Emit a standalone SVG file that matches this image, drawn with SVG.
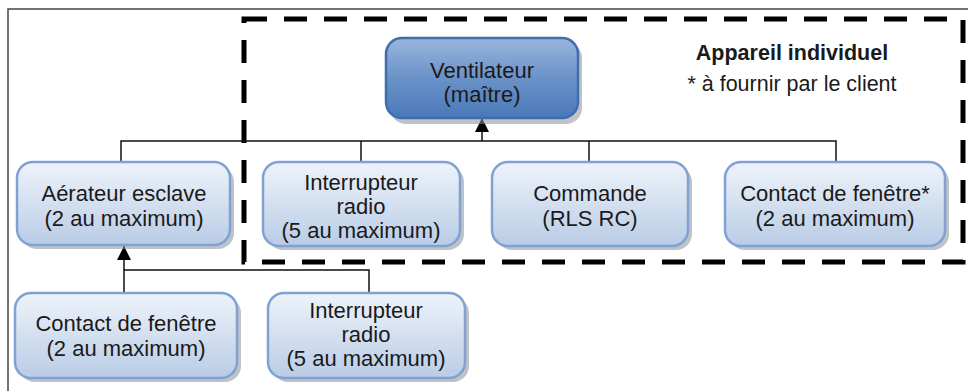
<svg xmlns="http://www.w3.org/2000/svg" width="968" height="391" viewBox="0 0 968 391">
<style>
text{font-family:"Liberation Sans",Arial,sans-serif;font-size:22px;fill:#1a1a1a;text-anchor:middle}
.note{font-size:21.5px}
.box{fill:url(#lg);stroke:#7fa2d2;stroke-width:2.5}
.sh{fill:#8a9099;opacity:0.55}
.wire{fill:none;stroke:#111;stroke-width:1.5}
</style>
<defs>
<linearGradient id="lg" x1="0" y1="0" x2="0" y2="1">
<stop offset="0" stop-color="#eef3fa"/>
<stop offset="1" stop-color="#b9cce6"/>
</linearGradient>
<linearGradient id="dg" x1="0" y1="0" x2="0" y2="1">
<stop offset="0" stop-color="#9ab5dd"/>
<stop offset="0.5" stop-color="#6a92c8"/>
<stop offset="1" stop-color="#4a78b8"/>
</linearGradient>
<marker id="ah" markerWidth="15" markerHeight="15" refX="14" refY="7.5" orient="auto" markerUnits="userSpaceOnUse" viewBox="0 0 15 15">
<path d="M0,0.5 L14,7.5 L0,14.5 Z" fill="#000"/>
</marker>
</defs>
<rect width="968" height="391" fill="#fff"/>
<path d="M8,391 V9 H968" fill="none" stroke="#444" stroke-width="1.5"/>
<rect x="244" y="19" width="719" height="243" fill="none" stroke="#000" stroke-width="5" stroke-dasharray="23 17"/>

<g id="connectors">
<path class="wire" d="M121,162 V141 H836 V162"/>
<path class="wire" d="M361,141 V162"/>
<path class="wire" d="M589,141 V162"/>
<path class="wire" d="M482,141 V118" marker-end="url(#ah)"/>
<path class="wire" d="M124,293 V270 H369 V293"/>
<path class="wire" d="M124,270 V246" marker-end="url(#ah)"/>
</g>

<g id="ventilateur">
<rect x="390" y="42" width="192" height="82" rx="16" class="sh"/>
<rect x="386" y="38" width="192" height="80" rx="16" fill="url(#dg)" stroke="#3f6eae" stroke-width="2.5"/>
<text x="482" y="78">Ventilateur</text>
<text x="482" y="102">(maître)</text>
</g>
<g id="label">
<text class="note" x="792" y="60" style="font-weight:bold">Appareil individuel</text>
<text class="note" x="792" y="91">* à fournir par le client</text>
</g>
<g id="aerateur">
<rect x="21" y="166" width="213" height="83" rx="16" class="sh"/>
<rect x="17" y="162" width="213" height="83" rx="16" class="box"/>
<text x="124" y="201">Aérateur esclave</text>
<text x="124" y="226">(2 au maximum)</text>
</g>
<g id="interrupteur1">
<rect x="267" y="166" width="197" height="84" rx="16" class="sh"/>
<rect x="263" y="162" width="197" height="84" rx="16" class="box"/>
<text x="361" y="190">Interrupteur</text>
<text x="361" y="214">radio</text>
<text x="361" y="238">(5 au maximum)</text>
</g>
<g id="commande">
<rect x="496" y="166" width="196" height="84" rx="16" class="sh"/>
<rect x="492" y="162" width="196" height="84" rx="16" class="box"/>
<text x="590" y="201">Commande</text>
<text x="590" y="226">(RLS RC)</text>
</g>
<g id="contact1">
<rect x="729" y="166" width="220" height="84" rx="16" class="sh"/>
<rect x="725" y="162" width="220" height="84" rx="16" class="box"/>
<text x="835" y="201">Contact de fenêtre*</text>
<text x="835" y="226">(2 au maximum)</text>
</g>
<g id="contact2">
<rect x="19" y="297" width="222" height="85" rx="16" class="sh"/>
<rect x="15" y="293" width="222" height="85" rx="16" class="box"/>
<text x="126" y="331">Contact de fenêtre</text>
<text x="126" y="356">(2 au maximum)</text>
</g>
<g id="interrupteur2">
<rect x="272" y="297" width="197" height="85" rx="16" class="sh"/>
<rect x="268" y="293" width="197" height="85" rx="16" class="box"/>
<text x="366" y="318">Interrupteur</text>
<text x="366" y="342">radio</text>
<text x="366" y="366">(5 au maximum)</text>
</g>
</svg>
